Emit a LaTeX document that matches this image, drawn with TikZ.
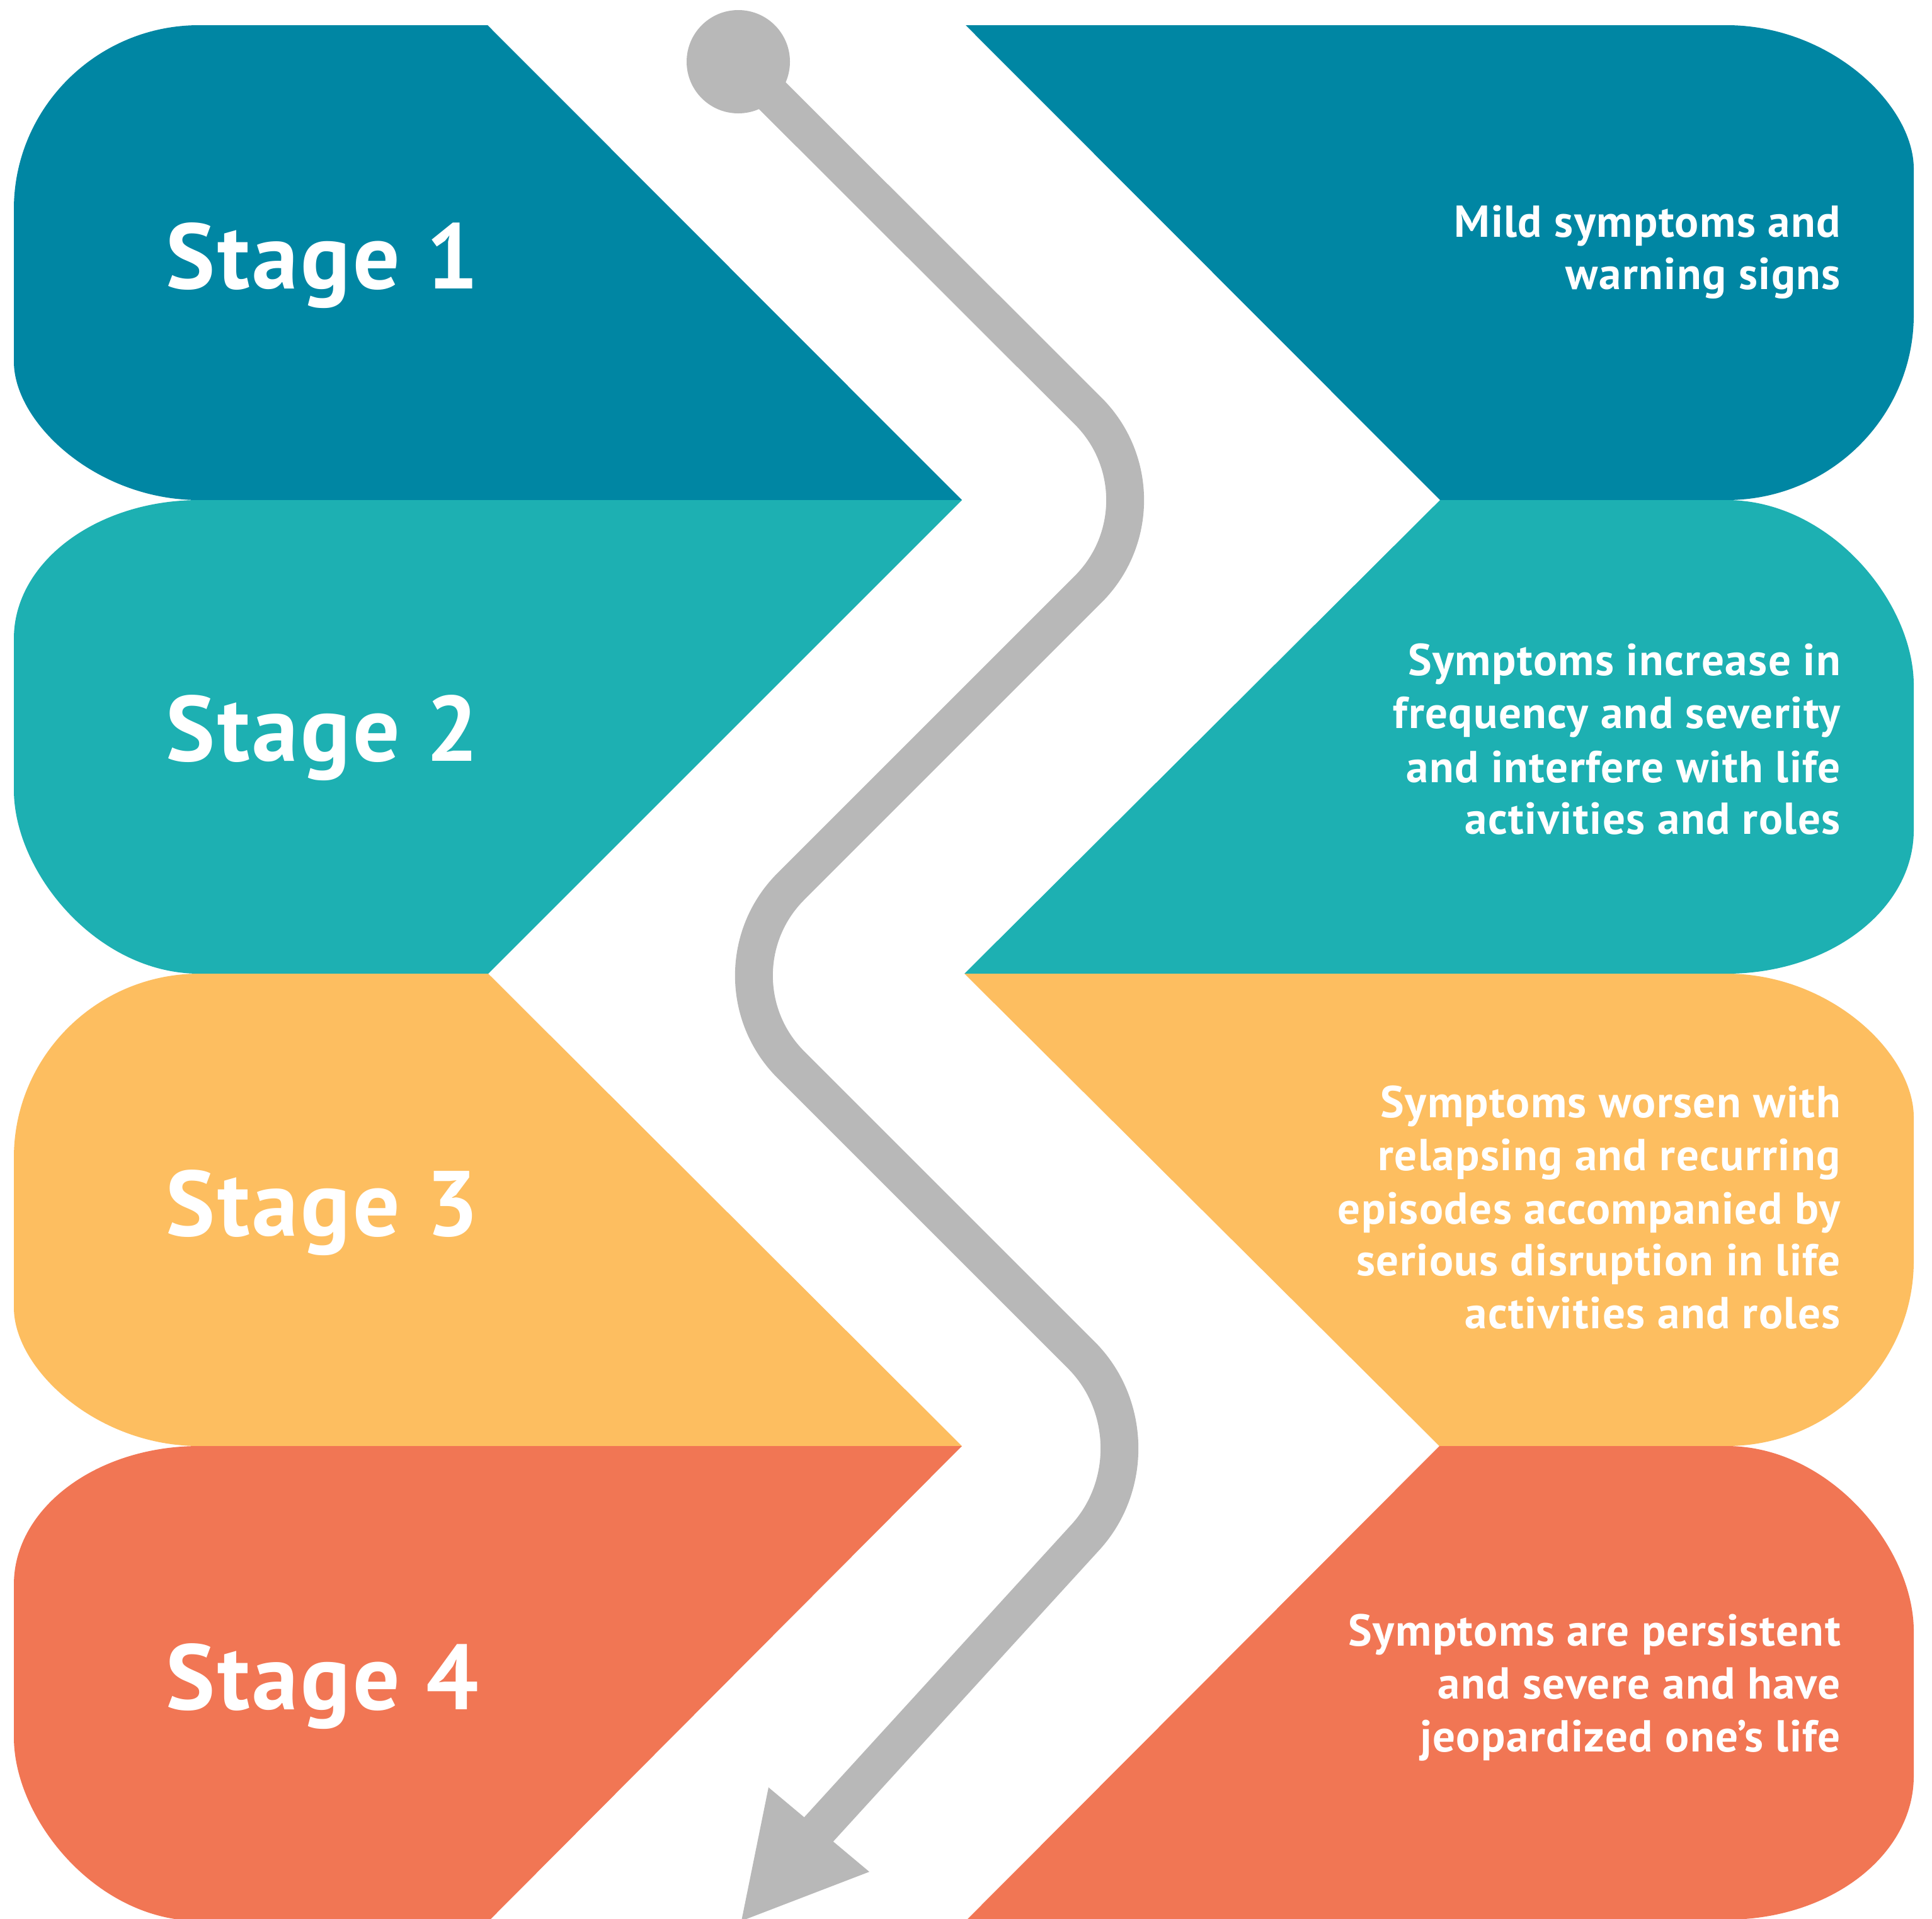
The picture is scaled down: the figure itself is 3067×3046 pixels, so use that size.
\documentclass[tikz,border=0pt]{standalone}
\usepackage{fontspec}
\setmainfont{PT Sans}
\newfontfamily\labelfont[LetterSpace=2.8]{PT Sans}
\newfontfamily\descfont[LetterSpace=2.1]{PT Sans}
\definecolor{cOne}{HTML}{0086A3}
\definecolor{cTwo}{HTML}{1DB0B2}
\definecolor{cThree}{HTML}{FDBE60}
\definecolor{cFour}{HTML}{F17654}
\definecolor{cPath}{HTML}{B8B8B8}
\begin{document}
\begin{tikzpicture}[x=1pt,y=-1pt,
  stagelabel/.style={anchor=base west,inner sep=0pt,text=white,font=\labelfont\bfseries\fontsize{147}{150}\selectfont},
  desc/.style={anchor=base east,inner sep=0pt,text=white,font=\descfont\bfseries\fontsize{71}{84}\selectfont},
  pathline/.style={draw=cPath,line width=60pt,line cap=butt,line join=round},
  dot/.style={circle,fill=cPath,inner sep=0pt,minimum size=164pt}]
\useasboundingbox (0,0) rectangle (3067,3046);
\fill[white] (0,0) rectangle (3067,3046);
% left blocks
\fill[cOne] (316,40) -- (774,40) -- (1527,794) -- (316,794)
  .. controls (154,794) and (22,672) .. (22,574) -- (22,332)
  .. controls (22,171) and (154,40) .. (316,40) -- cycle;
\fill[cTwo] (316,794) -- (1527,794) -- (775,1546) -- (316,1546)
  .. controls (154,1546) and (22,1385) .. (22,1254) -- (22,1014)
  .. controls (22,892) and (154,794) .. (316,794) -- cycle;
\fill[cThree] (316,1546) -- (775,1546) -- (1527,2296) -- (316,2296)
  .. controls (154,2296) and (22,2174) .. (22,2076) -- (22,1838)
  .. controls (22,1677) and (154,1546) .. (316,1546) -- cycle;
\fill[cFour] (316,2296) -- (1527,2296) -- (776,3050) -- (316,3050)
  .. controls (154,3050) and (22,2889) .. (22,2758) -- (22,2516)
  .. controls (22,2394) and (154,2296) .. (316,2296) -- cycle;
% right blocks
\fill[cOne] (1533,40) -- (2741,40) .. controls (2905,40) and (3038,166) .. (3038,268)
  -- (3038,500) .. controls (3038,662) and (2905,794) .. (2741,794) -- (2286,794) -- cycle;
\fill[cTwo] (2286,794) -- (2741,794) .. controls (2905,794) and (3038,956) .. (3038,1088)
  -- (3038,1318) .. controls (3038,1444) and (2905,1546) .. (2741,1546) -- (1531,1546) -- cycle;
\fill[cThree] (1531,1546) -- (2741,1546) .. controls (2905,1546) and (3038,1672) .. (3038,1774)
  -- (3038,2002) .. controls (3038,2164) and (2905,2296) .. (2741,2296) -- (2285,2296) -- cycle;
\fill[cFour] (2285,2296) -- (2741,2296) .. controls (2905,2296) and (3038,2458) .. (3038,2590)
  -- (3038,2820) .. controls (3038,2946) and (2905,3048) .. (2741,3048) -- (1535,3048) -- cycle;
% gray path
\coordinate (c1) at (1869,794);
\coordinate (c2) at (1114,1549);
\coordinate (c3) at (1858,2293);
\coordinate (pe) at (1293,2912);
\coordinate (al) at (1220,2838);
\coordinate (ar) at (1380,2972);
\coordinate (tip) at (1177,3050);
\node[dot] (start) at (1172,98) {};
\draw[pathline,rounded corners=200pt] (start.center) -- (c1) -- (c2) -- (c3) -- (pe);
\fill[cPath] (al) -- (tip) -- (ar) -- cycle;
% stage labels
\node[stagelabel] (s1) at (263,458) {Stage 1};
\node[stagelabel] (s2) at (263,1208) {Stage 2};
\node[stagelabel] (s3) at (263,1962) {Stage 3};
\node[stagelabel] (s4) at (263,2714) {Stage 4};
% descriptions
\node[desc] (d1a) at (2922,376) {Mild symptoms and};
\node[desc] (d1b) at (2922,459) {warning signs};
\node[desc] (d2a) at (2922,1072) {Symptoms increase in};
\node[desc] (d2b) at (2922,1156) {frequency and severity};
\node[desc] (d2c) at (2922,1242) {and interfere with life};
\node[desc] (d2d) at (2922,1324) {activities and roles};
\node[desc] (d3a) at (2922,1774) {Symptoms worsen with};
\node[desc] (d3b) at (2922,1858) {relapsing and recurring};
\node[desc] (d3c) at (2922,1943) {episodes accompanied by};
\node[desc] (d3d) at (2922,2025) {serious disruption in life};
\node[desc] (d3e) at (2922,2109) {activities and roles};
\node[desc] (d4a) at (2922,2613) {Symptoms are persistent};
\node[desc] (d4b) at (2922,2697) {and severe and have};
\node[desc] (d4c) at (2922,2781) {jeopardized one’s life};
\end{tikzpicture}
\end{document}
